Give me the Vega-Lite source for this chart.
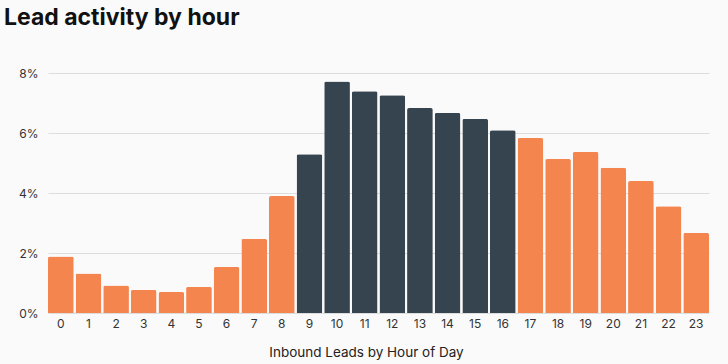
{
  "$schema": "https://vega.github.io/schema/vega-lite/v6.json",
  "width": 661,
  "height": 240,
  "autosize": {"type": "none"},
  "padding": {"left": 48, "top": 73, "right": 19, "bottom": 51},
  "background": "#FAFAFA",
  "title": {
    "text": "Lead activity by hour",
    "anchor": "start",
    "frame": "group",
    "font": "Inter",
    "fontSize": 23,
    "fontWeight": "bold",
    "color": "#111111",
    "dx": -44,
    "offset": 37
  },
  "data": {
    "values": [
      {"hour": 0, "pct": 0.0188, "peak": "no"},
      {"hour": 1, "pct": 0.0132, "peak": "no"},
      {"hour": 2, "pct": 0.0092, "peak": "no"},
      {"hour": 3, "pct": 0.0077, "peak": "no"},
      {"hour": 4, "pct": 0.0070, "peak": "no"},
      {"hour": 5, "pct": 0.0087, "peak": "no"},
      {"hour": 6, "pct": 0.0153, "peak": "no"},
      {"hour": 7, "pct": 0.0247, "peak": "no"},
      {"hour": 8, "pct": 0.0390, "peak": "no"},
      {"hour": 9, "pct": 0.0529, "peak": "yes"},
      {"hour": 10, "pct": 0.0772, "peak": "yes"},
      {"hour": 11, "pct": 0.0739, "peak": "yes"},
      {"hour": 12, "pct": 0.0726, "peak": "yes"},
      {"hour": 13, "pct": 0.0683, "peak": "yes"},
      {"hour": 14, "pct": 0.0667, "peak": "yes"},
      {"hour": 15, "pct": 0.0647, "peak": "yes"},
      {"hour": 16, "pct": 0.0609, "peak": "yes"},
      {"hour": 17, "pct": 0.0583, "peak": "no"},
      {"hour": 18, "pct": 0.0513, "peak": "no"},
      {"hour": 19, "pct": 0.0537, "peak": "no"},
      {"hour": 20, "pct": 0.0484, "peak": "no"},
      {"hour": 21, "pct": 0.0440, "peak": "no"},
      {"hour": 22, "pct": 0.0356, "peak": "no"},
      {"hour": 23, "pct": 0.0267, "peak": "no"}
    ]
  },
  "mark": {"type": "bar", "cornerRadiusTopLeft": 2, "cornerRadiusTopRight": 2},
  "encoding": {
    "x": {
      "field": "hour",
      "type": "ordinal",
      "title": "Inbound Leads by Hour of Day",
      "scale": {"paddingInner": 0.07, "paddingOuter": 0},
      "axis": {
        "labelAngle": 0,
        "domain": false,
        "ticks": false,
        "labelPadding": 5,
        "labelFont": "Inter",
        "labelFontSize": 12,
        "labelColor": "#333333",
        "titleFont": "Inter",
        "titleFontSize": 13.5,
        "titleFontWeight": "normal",
        "titleColor": "#222222",
        "titlePadding": 16,
        "titleX": 318,
        "titleAlign": "center"
      }
    },
    "y": {
      "field": "pct",
      "type": "quantitative",
      "title": null,
      "scale": {"domain": [0, 0.08]},
      "axis": {
        "format": ".0%",
        "values": [0, 0.02, 0.04, 0.06, 0.08],
        "labelOverlap": false,
        "domain": false,
        "ticks": false,
        "labelPadding": 10,
        "labelFont": "Inter",
        "labelFontSize": 12,
        "labelColor": "#333333",
        "gridColor": "#DDDDDD",
        "gridWidth": 1
      }
    },
    "color": {
      "field": "peak",
      "type": "nominal",
      "scale": {"domain": ["no", "yes"], "range": ["#F5854F", "#36444F"]},
      "legend": null
    }
  },
  "config": {"view": {"stroke": null}}
}
